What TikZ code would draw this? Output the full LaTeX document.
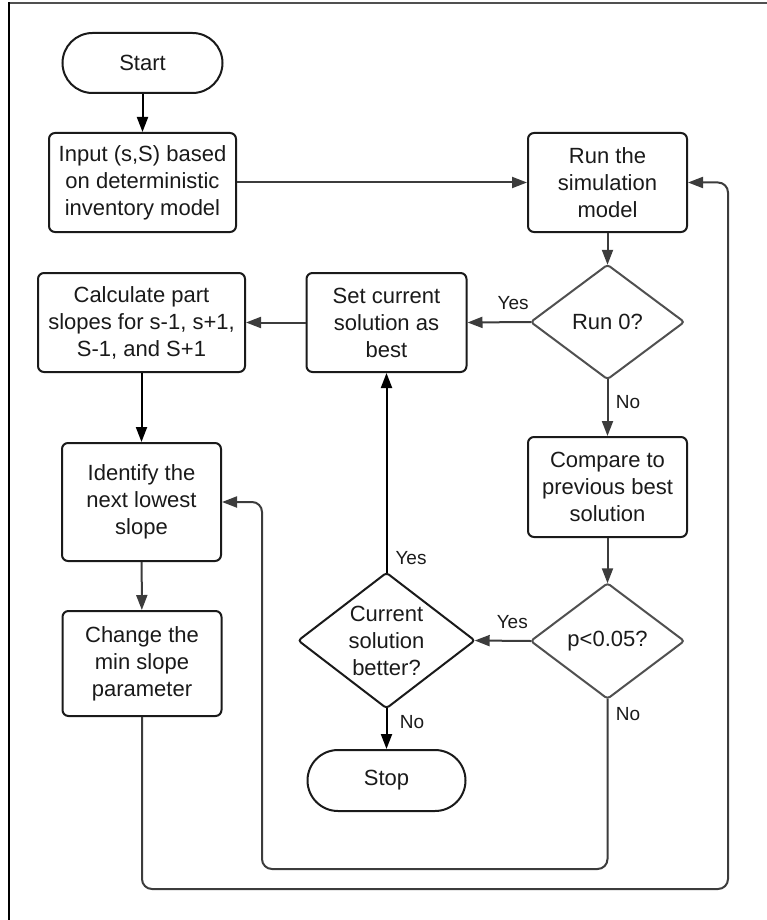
\documentclass[tikz,border=0pt]{standalone}
\usepackage{fontspec}
\setmainfont{Liberation Sans}
\usetikzlibrary{arrows.meta,shapes.misc}
\definecolor{ink}{HTML}{1A1A1A}
\definecolor{wire}{HTML}{3C3C3C}
\definecolor{dgray}{HTML}{505050}

\begin{document}
\begin{tikzpicture}[x=1pt,y=-1pt,
  every node/.style={text=ink},
  proc/.style={draw=ink, line width=2pt, rounded corners=6pt, fill=white,
    align=center, inner sep=0pt, font=\fontsize{22}{27}\selectfont},
  term/.style={draw=ink, line width=2pt, rounded rectangle, fill=white,
    inner sep=0pt, minimum width=160pt, minimum height=60pt,
    font=\fontsize{22}{27}\selectfont},
  decbox/.style={inner sep=0pt, align=center, font=\fontsize{22}{27}\selectfont},
  flow/.style={draw=wire, line width=2pt, -{Triangle[length=15pt,width=11pt]}},
  loop/.style={flow, rounded corners=10pt},
  lbl/.style={inner sep=0pt, font=\fontsize{19}{22}\selectfont, anchor=center}
]
\useasboundingbox (0,0) rectangle (767,920);

% frame lines
\draw[dgray, line width=2pt] (8,3.5) -- (767,3.5);
\draw[black, line width=2.6pt] (9,2.5) -- (9,920);

% process steps
\node[term] (start) at (142.5,63) {Start};
\node[proc, minimum width=187pt, minimum height=99pt] (input) at (142.5,182.5)
  {Input (s,S) based\\on deterministic\\inventory model};
\node[proc, minimum width=159pt, minimum height=99pt] (run) at (607.5,182.5)
  {Run the\\simulation\\model};
\node[proc, minimum width=160pt, minimum height=99pt] (set) at (386.5,322.5)
  {Set current\\solution as\\best};
\node[proc, minimum width=207pt, minimum height=99pt] (calc) at (141.5,322.5)
  {Calculate part\\slopes for s-1, s+1,\\S-1, and S+1};
\node[proc, minimum width=159pt, minimum height=118pt] (ident) at (141.5,502)
  {Identify the\\next lowest\\slope};
\node[proc, minimum width=159pt, minimum height=105pt] (change) at (142,663.5)
  {Change the\\min slope\\parameter};
\node[proc, minimum width=159pt, minimum height=100pt] (comp) at (607.5,487)
  {Compare to\\previous best\\solution};
\node[term, minimum width=158pt, minimum height=61pt] (stop) at (386.5,780.5) {Stop};

% decisions
\node[decbox, minimum width=153pt, minimum height=114pt] (run0) at (607.5,322) {Run 0?};
\node[decbox, minimum width=153pt, minimum height=115pt] (pval) at (607.5,641) {p<0.05?};
\node[decbox, minimum width=176pt, minimum height=135pt] (better) at (386.5,640.5)
  {Current\\solution\\better?};
\begin{scope}[on background layer/.style={}]
\foreach \d/\c in {run0/dgray, pval/dgray, better/ink}{
  \draw[\c, line width=2pt, rounded corners=3pt]
    (\d.north) -- (\d.east) -- (\d.south) -- (\d.west) -- cycle;
}
\end{scope}

% loop corners
\coordinate (innerCorner) at (262,869);
\coordinate (outerCorner) at (728,889);

% connectors
\draw[flow, draw=black] (start) -- (input);
\draw[flow] (input) -- (run);
\draw[flow] (run) -- (run0);
\draw[flow] (run0.west) -- node[lbl, pos=0.28, yshift=19pt] {Yes} (set.east);
\draw[flow] (set) -- (calc);
\draw[flow, draw=black] (calc) -- (ident);
\draw[flow] (ident) -- (change);
\draw[flow] (run0.south) -- node[lbl, pos=0.4, xshift=20.5pt] {No} (comp.north);
\draw[flow] (comp) -- (pval);
\draw[flow] (pval.west) -- node[lbl, pos=0.33, yshift=19pt] {Yes} (better.east);
\draw[flow, draw=black] (better.north) -- node[lbl, pos=0.075, xshift=24.5pt] {Yes} (set.south);
\draw[flow, draw=black] (better.south) -- node[lbl, pos=0.33, xshift=25.5pt] {No} (stop.north);
\draw[loop] (pval.south) node[lbl, xshift=20.5pt, yshift=-15pt] {No}
  |- (innerCorner) |- (ident.east);
\draw[loop] (change.south) |- (outerCorner) |- (run.east);
\end{tikzpicture}
\end{document}
